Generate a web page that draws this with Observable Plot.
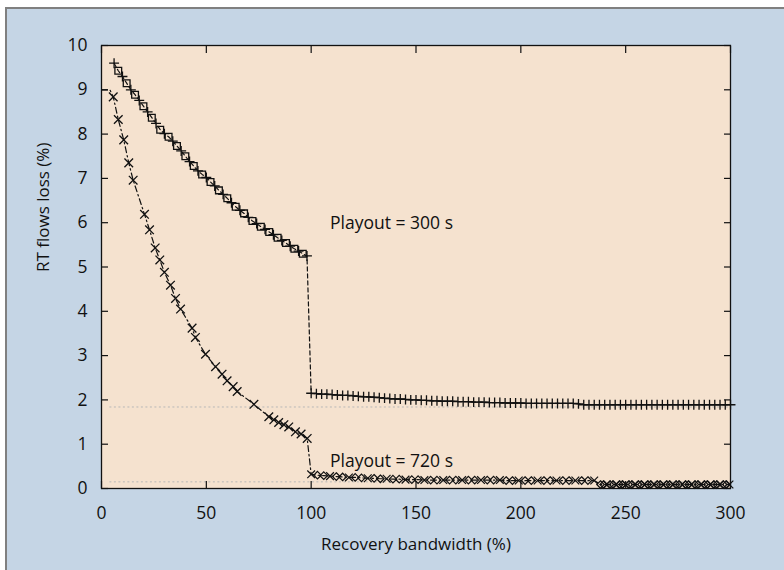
<!DOCTYPE html>
<html>
<head>
<meta charset="utf-8">
<script src="https://cdn.jsdelivr.net/npm/d3@7"></script>
<script src="https://cdn.jsdelivr.net/npm/@observablehq/plot@0.6"></script>
<style>
  body { margin: 0; background: #fff; }
  #wrap { position: relative; width: 784px; height: 570px; background: #fff; overflow: hidden; }
  #panel { position: absolute; left: 5px; top: 7px; width: 779px; height: 563px; background: #c5d5e5;
           border-left: 2px solid #808080; border-top: 2px solid #808080; }
  #chart { position: absolute; left: 0; top: 0; }
</style>
</head>
<body>
<div id="wrap"><div id="panel"></div><div id="chart"></div></div>
<script>
// ---- Playout = 300 s ----
const x300a = [6,8,10,12,14,16,18,20,22,24,26,28,30,32,34,36,38,40,42,44,46,48,50,52,54,56,58,60,62,64,66,68,70,72,74,76,78,80,82,84,86,88,90,92,94,96,98];
const y300a = [9.60,9.43,9.30,9.15,9.00,8.89,8.76,8.63,8.50,8.37,8.24,8.10,8.01,7.94,7.84,7.73,7.62,7.50,7.38,7.28,7.17,7.09,7.02,6.92,6.83,6.73,6.64,6.55,6.45,6.36,6.28,6.21,6.12,6.04,5.98,5.91,5.85,5.79,5.73,5.66,5.60,5.54,5.47,5.41,5.36,5.30,5.25];
const x300b = [100,102.5,105,107.5,110,112.5,115,117.5,120,122.5,125,127.5,130,132.5,135,137.5,140,142.5,145,147.5,150,152.5,155,157.5,160,162.5,165,167.5,170,172.5,175,177.5,180,182.5,185,187.5,190,192.5,195,197.5,200,202.5,205,207.5,210,212.5,215,217.5,220,222.5,225,227.5,230,232.5,235,237.5,240,242.5,245,247.5,250,252.5,255,257.5,260,262.5,265,267.5,270,272.5,275,277.5,280,282.5,285,287.5,290,292.5,295,297.5,300];
const y300b = [2.15,2.14,2.13,2.13,2.12,2.11,2.10,2.10,2.09,2.08,2.07,2.07,2.06,2.05,2.04,2.03,2.02,2.02,2.01,2.00,2.00,1.99,1.99,1.98,1.98,1.97,1.97,1.97,1.96,1.96,1.96,1.95,1.95,1.95,1.94,1.94,1.94,1.93,1.93,1.93,1.93,1.92,1.92,1.92,1.92,1.92,1.92,1.92,1.92,1.92,1.92,1.91,1.89,1.89,1.89,1.89,1.89,1.89,1.89,1.89,1.89,1.89,1.89,1.89,1.89,1.89,1.89,1.89,1.89,1.89,1.89,1.89,1.89,1.89,1.89,1.89,1.89,1.89,1.89,1.89,1.89];

// ---- Playout = 720 s ----
const x720start = [0,4];
const y720start = [9.0,9.0];
const x720a = [5.6,8.0,10.6,13.0,15.1,20.5,22.9,25.6,27.8,30.0,32.9,35.3,37.7,43.2,44.8,49.6,54.4,57.5,59.9,62.8,64.7,72.7,79.8,82.2,84.5,87,89.3,92.5,95.2,98.1];
const y720a = [8.84,8.33,7.87,7.35,6.96,6.19,5.84,5.43,5.16,4.88,4.59,4.29,4.05,3.62,3.41,3.03,2.75,2.58,2.43,2.30,2.19,1.90,1.62,1.55,1.49,1.44,1.39,1.28,1.23,1.13];
const x720b = [100,103,106,109,112,115,118,121,124,127,130,133,136,139,142,145,148,151,154,157,160,163,166,169,172,175,178,181,184,187,190,193,196,199,202,205,208,211,214,217,220,223,226,229,232,235,
  238,239.5,241,242.5,244,245.5,247,248.5,250,251.5,253,254.5,256,257.5,259,260.5,262,263.5,265,266.5,268,269.5,271,272.5,274,275.5,277,278.5,280,281.5,283,284.5,286,287.5,289,290.5,292,293.5,295,296.5,298,299.5];
const y720b = [0.32,0.30,0.29,0.28,0.27,0.26,0.25,0.25,0.24,0.23,0.23,0.22,0.22,0.21,0.21,0.20,0.20,0.20,0.19,0.19,0.19,0.19,0.19,0.19,0.19,0.19,0.19,0.19,0.19,0.19,0.19,0.18,0.18,0.18,0.18,0.18,0.18,0.18,0.18,0.18,0.18,0.18,0.18,0.18,0.18,0.18,
  0.09,0.09,0.09,0.09,0.09,0.09,0.09,0.09,0.09,0.09,0.09,0.09,0.09,0.09,0.09,0.09,0.09,0.09,0.09,0.09,0.09,0.09,0.09,0.09,0.09,0.09,0.09,0.09,0.09,0.09,0.09,0.09,0.09,0.09,0.09,0.09,0.09,0.09,0.09,0.09,0.09,0.09];

// reference levels (dotted)
const refLevels = [1.84, 0.15];
const refStart = 4;
const refEnd = 300;

const xTicks = [0,50,100,150,200,250,300];
const yTicks = [0,1,2,3,4,5,6,7,8,9,10];
const annotations = [
  {text: "Playout = 300 s", x: 109, y: 5.98},
  {text: "Playout = 720 s", x: 109, y: 0.62}
];
const xTitle = "Recovery bandwidth (%)";
const yTitle = "RT flows loss (%)";

const zip = (xs, ys) => xs.map((x, i) => ({x, y: ys[i], i}));
const s300a = zip(x300a, y300a);
const s300b = zip(x300b, y300b);
const s720a = zip(x720a, y720a);
const s720b = zip(x720b, y720b);
const line300 = [...s300a, ...s300b];
const line720 = [...zip(x720start, y720start), ...s720a, ...s720b];

const ink = "#111";
const chart = Plot.plot({
  width: 784,
  height: 570,
  marginLeft: 101,
  marginRight: 54,
  marginTop: 45,
  marginBottom: 82,
  x: {domain: [0, 300], label: null},
  y: {domain: [0, 10], label: null},
  style: {fontFamily: "'Open Sans', sans-serif", fontSize: "17px", background: "transparent", color: ink, overflow: "visible"},
  marks: [
    Plot.frame({fill: "#f5e2cf", stroke: null}),
    Plot.ruleY(refLevels, {x1: refStart, x2: refEnd, stroke: "#b8b8b8", strokeWidth: 1, strokeDasharray: "2,2.5"}),
    // tick labels
    Plot.axisY({anchor: "left", ticks: yTicks, tickSize: 0, tickPadding: 14, label: null, fontSize: 17.5}),
    Plot.axisX({anchor: "bottom", ticks: xTicks, tickSize: 0, tickPadding: 18, label: null, fontSize: 17.5}),
    // inward ticks
    Plot.axisY({anchor: "left", ticks: yTicks, tickSize: 7, dx: 7, tickFormat: () => "", label: null, strokeWidth: 1.2}),
    Plot.axisY({anchor: "right", ticks: yTicks, tickSize: 7, dx: -7, tickFormat: () => "", label: null, strokeWidth: 1.2}),
    Plot.axisX({anchor: "bottom", ticks: xTicks, tickSize: 7, dy: -7, tickFormat: () => "", label: null, strokeWidth: 1.2}),
    Plot.axisX({anchor: "top", ticks: xTicks, tickSize: 7, dy: 7, tickFormat: () => "", label: null, strokeWidth: 1.2}),
    // lines
    Plot.line(line300, {x: "x", y: "y", stroke: ink, strokeWidth: 1.2, strokeDasharray: "4,3"}),
    Plot.line(line720, {x: "x", y: "y", stroke: ink, strokeWidth: 1.2, strokeDasharray: "6,3,1.5,3"}),
    // markers
    Plot.dot(s300a.filter(d => d.i % 2 === 0), {x: "x", y: "y", symbol: "plus", r: 3.3, stroke: ink, strokeWidth: 1.3}),
    Plot.dot(s300a.filter(d => d.i % 2 === 1), {x: "x", y: "y", symbol: "square2", r: 4.3, stroke: ink, strokeWidth: 1.3}),
    Plot.dot(s300b, {x: "x", y: "y", symbol: "plus", r: 3.3, stroke: ink, strokeWidth: 1.3}),
    Plot.dot(s720a, {x: "x", y: "y", symbol: "times", r: 4.0, stroke: ink, strokeWidth: 1.3}),
    Plot.dot(s720b.filter(d => d.i % 3 === 0), {x: "x", y: "y", symbol: "times", r: 3.6, stroke: ink, strokeWidth: 1.2}),
    Plot.dot(s720b.filter(d => d.i % 3 !== 0), {x: "x", y: "y", symbol: "diamond2", r: 3.4, stroke: ink, strokeWidth: 1.2}),
    // annotations
    Plot.text(annotations, {x: "x", y: "y", text: "text", textAnchor: "start", fill: ink, fontSize: 17.5}),
    Plot.text([xTitle], {frameAnchor: "bottom", dy: 61, fill: ink, fontSize: 17}),
    Plot.text([yTitle], {frameAnchor: "left", dx: -58, dy: 5, rotate: -90, fill: ink, fontSize: 17}),
    Plot.frame({stroke: ink, strokeWidth: 1.3})
  ]
});
document.getElementById("chart").appendChild(chart);
</script>
</body>
</html>
